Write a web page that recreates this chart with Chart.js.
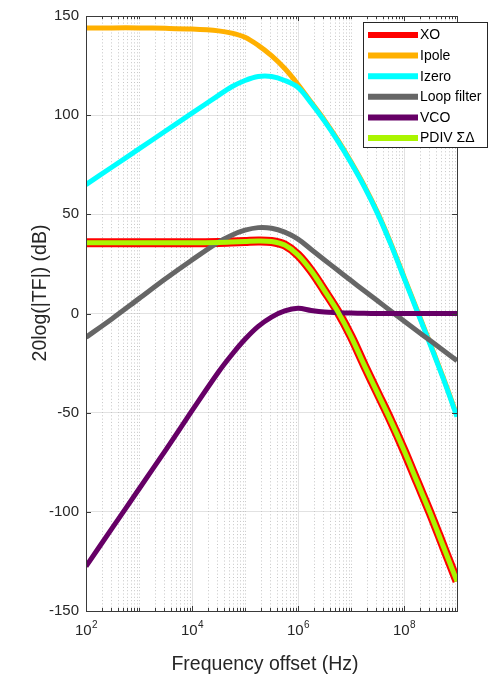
<!DOCTYPE html>
<html>
<head>
<meta charset="utf-8">
<script src="https://cdn.jsdelivr.net/npm/chart.js@4.4.1/dist/chart.umd.min.js"></script>
<style>
  html, body { margin: 0; padding: 0; background: #ffffff; }
  canvas { display: block; }
</style>
</head>
<body>
<canvas id="c" width="497" height="677"></canvas>
<script>
// Frequency offsets (Hz) at which each transfer function is sampled
const freqHz = [100, 316, 1000, 3162, 10000, 31623, 56234, 100000, 177828, 316228, 562341,
  1000000, 1778279, 3162278, 5623413, 10000000, 17782794, 31622777, 56234133,
  100000000, 177827941, 316227766, 562341325, 1000000000];

// Magnitudes, 20log(|TF|) in dB
const xoDb    = [35.7, 35.7, 35.7, 35.7, 35.7, 35.8, 36.0, 36.3, 36.6, 36.3, 34.5, 29.5, 21.5, 11.5, 1.0, -11.5, -26, -40, -54, -69, -85, -101, -118, -135];
const ipoleDb = [144, 144, 144, 143.8, 143.4, 142.5, 141.4, 139.3, 135.2, 130, 123.5, 115.5, 106.5, 97.5, 87.5, 76.5, 64.5, 51, 35.5, 18.5, 1.5, -15.5, -33, -51.5];
const izeroDb = [65, 74, 83, 92, 101, 110, 114.3, 117.5, 119.5, 119.5, 117.5, 114, 106, 97, 87, 76, 64, 50.5, 35, 18, 1, -16, -33.5, -52];
const loopDb  = [-12, -2.5, 7.5, 17.5, 27, 36, 39.5, 42, 43.3, 43, 41, 37.5, 32.3, 27, 21.8, 16.6, 11.5, 6.4, 1.3, -3.8, -8.8, -13.8, -18.8, -23.8];
const vcoDb   = [-127.5, -108, -88.5, -69, -49, -29.5, -20.8, -13, -6.5, -1.8, 1.3, 2.6, 1.5, 0.7, 0.4, 0.2, 0.1, 0, 0, 0, 0, 0, 0, 0];
const pdivDb  = [35.7, 35.7, 35.7, 35.7, 35.7, 35.8, 36.0, 36.3, 36.6, 36.3, 34.5, 29.5, 21.5, 11.5, 1.0, -11.5, -26, -40, -54, -69, -85, -101, -118, -135];

// Axis ticks
const xMajorExp = [2, 4, 6, 8];
const xTickLabels = [['10', '2'], ['10', '4'], ['10', '6'], ['10', '8']];
const yTicks = [-150, -100, -50, 0, 50, 100, 150];

const FONT = "'Liberation Sans', Arial, Helvetica, sans-serif";
const TEXT = '#262626';

const pts = arr => arr.map((v, i) => ({ x: freqHz[i], y: v }));

function series(label, values, color, width, order) {
  return {
    label, data: pts(values), borderColor: color, backgroundColor: color,
    borderWidth: width, pointRadius: 0, fill: false,
    tension: 0.35, order, borderCapStyle: 'butt', borderJoinStyle: 'round'
  };
}

// Minor grid, frame, tick marks, custom tick labels, titles and legend box
const decor = {
  id: 'decor',
  beforeDatasetsDraw(chart) {
    const { ctx, chartArea: a, scales: { x } } = chart;
    ctx.save();
    ctx.strokeStyle = '#c6c6c6';
    ctx.lineWidth = 1;
    ctx.setLineDash([1, 2.3]);
    for (let e = 2; e < 9; e++) {
      for (let m = 1; m <= 9; m++) {
        if (m === 1 && (xMajorExp.includes(e) || e === 2)) continue;
        const px = Math.round(x.getPixelForValue(m * Math.pow(10, e))) + 0.5;
        ctx.beginPath();
        ctx.moveTo(px, a.top);
        ctx.lineTo(px, a.bottom);
        ctx.stroke();
      }
    }
    ctx.restore();
  },
  afterDatasetsDraw(chart) {
    const { ctx, chartArea: a, scales: { x, y } } = chart;
    ctx.save();
    // frame
    ctx.strokeStyle = '#3a3a3a';
    ctx.lineWidth = 1;
    ctx.strokeRect(Math.round(a.left) + 0.5, Math.round(a.top) + 0.5,
      Math.round(a.right - a.left), Math.round(a.bottom - a.top));
    // x ticks (inside, top and bottom)
    ctx.beginPath();
    for (let e = 2; e <= 9; e++) {
      for (let m = 1; m <= 9; m++) {
        const v = m * Math.pow(10, e);
        if (v > 1e9) break;
        const px = Math.round(x.getPixelForValue(v)) + 0.5;
        const len = (m === 1 && xMajorExp.includes(e)) ? 5 : 3;
        ctx.moveTo(px, a.bottom); ctx.lineTo(px, a.bottom - len);
        ctx.moveTo(px, a.top); ctx.lineTo(px, a.top + len);
      }
    }
    // y ticks (inside, left and right)
    yTicks.forEach(v => {
      const py = Math.round(y.getPixelForValue(v)) + 0.5;
      ctx.moveTo(a.left, py); ctx.lineTo(a.left + 5, py);
      ctx.moveTo(a.right, py); ctx.lineTo(a.right - 5, py);
    });
    ctx.stroke();

    // legend
    const ds = chart.data.datasets;
    const bx = 363.5, by = 22.5, bw = 124, bh = 125, row = 20.6;
    ctx.fillStyle = '#ffffff';
    ctx.fillRect(bx, by, bw, bh);
    ctx.strokeStyle = '#262626';
    ctx.strokeRect(bx, by, bw, bh);
    ctx.font = '14px ' + FONT;
    ctx.textBaseline = 'middle';
    ctx.textAlign = 'left';
    ds.forEach((d, i) => {
      const cy = 35 + i * row;
      ctx.strokeStyle = d.borderColor;
      ctx.lineWidth = 6;
      ctx.beginPath();
      ctx.moveTo(368, cy);
      ctx.lineTo(418, cy);
      ctx.stroke();
      ctx.fillStyle = '#000000';
      ctx.fillText(d.label, 420, cy + 0.5);
    });
    ctx.restore();
  },
  afterDraw(chart) {
    const { ctx, scales: { x } } = chart;
    ctx.save();
    ctx.fillStyle = TEXT;
    ctx.textBaseline = 'alphabetic';
    // x tick labels with superscript exponents
    xMajorExp.forEach((e, i) => {
      const [base, sup] = xTickLabels[i];
      const px = x.getPixelForValue(Math.pow(10, e));
      ctx.font = '15px ' + FONT;
      const wb = ctx.measureText(base).width;
      ctx.font = '10px ' + FONT;
      const ws = ctx.measureText(sup).width;
      const left = px - (wb + ws) / 2;
      ctx.font = '15px ' + FONT;
      ctx.textAlign = 'left';
      ctx.fillText(base, left, 635);
      ctx.font = '10px ' + FONT;
      ctx.fillText(sup, left + wb + 0.5, 628);
    });
    // axis titles
    ctx.font = '19.5px ' + FONT;
    ctx.textAlign = 'center';
    ctx.fillText('Frequency offset (Hz)', 265, 670);
    ctx.translate(46, 293);
    ctx.rotate(-Math.PI / 2);
    ctx.fillText('20log(|TF|) (dB)', 0, 0);
    ctx.restore();
  }
};

new Chart(document.getElementById('c'), {
  type: 'line',
  data: {
    datasets: [
      series('XO', xoDb, '#ff0000', 9, 6),
      series('Ipole', ipoleDb, '#ffb000', 5, 5),
      series('Izero', izeroDb, '#00ffff', 5, 4),
      series('Loop filter', loopDb, '#666666', 5, 3),
      series('VCO', vcoDb, '#660066', 5, 2),
      series('PDIV ΣΔ', pdivDb, '#aaf500', 5, 1)
    ]
  },
  options: {
    responsive: false,
    devicePixelRatio: 1,
    animation: false,
    events: [],
    layout: { padding: { top: 13, right: 40, left: 0, bottom: 0 } },
    plugins: { legend: { display: false }, tooltip: { enabled: false } },
    scales: {
      x: {
        type: 'logarithmic',
        min: 100,
        max: 1e9,
        afterBuildTicks: s => { s.ticks = xMajorExp.map(e => ({ value: Math.pow(10, e) })); },
        afterFit: s => { s.height = 66; },
        ticks: { display: false },
        grid: { color: '#e2e2e2', lineWidth: 1, drawTicks: false },
        border: { display: false }
      },
      y: {
        min: -150,
        max: 150,
        afterBuildTicks: s => { s.ticks = yTicks.map(v => ({ value: v })); },
        afterFit: s => { s.width = 86; },
        ticks: {
          color: TEXT,
          padding: 7,
          font: { family: FONT, size: 15 },
          callback: v => String(v)
        },
        grid: { color: '#e2e2e2', lineWidth: 1, drawTicks: false },
        border: { display: false }
      }
    }
  },
  plugins: [decor]
});
</script>
</body>
</html>
